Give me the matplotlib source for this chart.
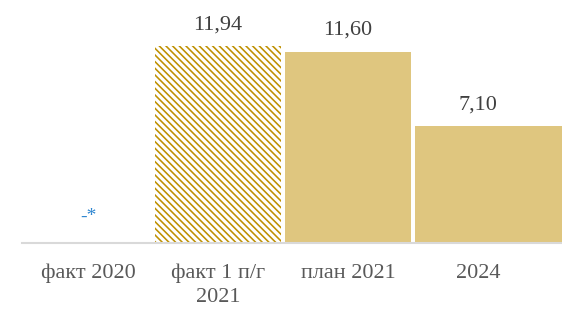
import matplotlib
matplotlib.use("Agg")
import matplotlib.pyplot as plt

categories = ["факт 2020", "факт 1 п/г\n2021", "план 2021", "2024"]
values = [0.0, 11.94, 11.60, 7.10]
value_labels = ["-*", "11,94", "11,60", "7,10"]

plt.rcParams['hatch.linewidth'] = 1.15
plt.rcParams['hatch.color'] = '#BF9000'

fig = plt.figure(figsize=(5.62, 3.09), dpi=100)
ax = fig.add_axes([22 / 562, 0.2136, 1 - 22 / 562, 0.7864])

x = list(range(len(categories)))
widths = [0.975, 0.975, 0.975, 1.4]
lefts = [xi - 0.4875 for xi in x]
solid = '#DFC67F'
hatch_pattern = chr(92) * 5
for i, (l, v, w) in enumerate(zip(lefts, values, widths)):
    if i == 1:
        ax.bar(l, v, width=w, align='edge', color='white', edgecolor='#BF9000',
               hatch=hatch_pattern, linewidth=0)
    elif v > 0:
        ax.bar(l, v, width=w, align='edge', color=solid, linewidth=0)

for i, (xi, v, lab) in enumerate(zip(x, values, value_labels)):
    if i == 0:
        ax.annotate(lab, (xi, v), xytext=(0, 16), textcoords='offset points',
                    ha='center', va='baseline', fontsize=14, color='#2E86D0',
                    family='Liberation Serif')
    else:
        ax.annotate(lab, (xi, v), xytext=(0, 12), textcoords='offset points',
                    ha='center', va='baseline', fontsize=16, color='#404040',
                    family='Liberation Serif')

ax.set_xlim(-0.508, 3.646)
ax.set_ylim(0, 14.73)
ax.set_xticks(x)
ax.set_xticklabels(categories, family='Liberation Serif', fontsize=16,
                   color='#595959', linespacing=1.35)
ax.tick_params(axis='x', length=0, pad=15)
ax.set_yticks([])
for s in ['top', 'right', 'left']:
    ax.spines[s].set_visible(False)
ax.spines['bottom'].set_color('#D9D9D9')
ax.spines['bottom'].set_linewidth(1.5)

fig.savefig('out.png', dpi=100)
